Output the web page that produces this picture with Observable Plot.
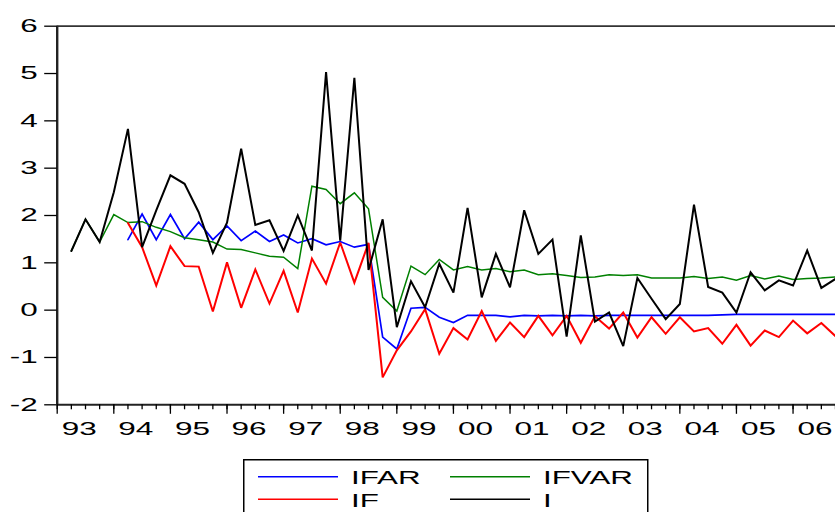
<!DOCTYPE html>
<html>
<head>
<meta charset="utf-8">
<script src="https://cdn.jsdelivr.net/npm/d3@7"></script>
<script src="https://cdn.jsdelivr.net/npm/@observablehq/plot@0.6"></script>
<style>
  html, body { margin: 0; padding: 0; background: #fff; }
  #wrap { position: relative; width: 835px; height: 512px; overflow: hidden; font-family: "Liberation Sans", Arial, sans-serif; }
  #chart svg { display: block; }
  #legend { position: absolute; left: 243px; top: 459px; }
</style>
</head>
<body>
<div id="wrap">
  <div id="chart"></div>
  <svg id="legend" width="406" height="60"></svg>
</div>
<script>
// ---- data (quarterly, first observation 1993Q2) ----
const startYear = 1993, startQuarter = 2;
const I = [1.25, 1.92, 1.44, 2.49, 3.83, 1.33, 2.11, 2.85, 2.67, 2.07, 1.21, 1.85, 3.41, 1.80,
  1.90, 1.25, 2.00, 1.26, 5.03, 1.47, 4.91, 0.85, 1.92, -0.36, 0.61, 0.06, 0.98, 0.37,
  2.16, 0.27, 1.19, 0.48, 2.11, 1.19, 1.49, -0.56, 1.58, -0.24, -0.05, -0.76, 0.68, 0.24,
  -0.19, 0.13, 2.23, 0.49, 0.37, -0.05, 0.80, 0.42, 0.63, 0.52, 1.26, 0.47, 0.66];
const IFVAR = [1.25, 1.92, 1.44, 2.02, 1.85, 1.87, 1.75, 1.66, 1.53, 1.49, 1.44, 1.29, 1.28, 1.21,
  1.14, 1.12, 0.88, 2.62, 2.55, 2.25, 2.48, 2.14, 0.27, -0.02, 0.93, 0.75, 1.07, 0.85,
  0.92, 0.85, 0.88, 0.81, 0.85, 0.75, 0.77, 0.73, 0.69, 0.70, 0.75, 0.73, 0.75, 0.68,
  0.68, 0.68, 0.71, 0.67, 0.70, 0.63, 0.73, 0.66, 0.72, 0.65, 0.67, 0.68, 0.70];
const IFAR = [null, null, null, null, 1.49, 2.03, 1.49, 2.02, 1.51, 1.86, 1.49, 1.78, 1.47, 1.67,
  1.45, 1.59, 1.42, 1.51, 1.38, 1.45, 1.33, 1.39, -0.57, -0.82, 0.04, 0.06, -0.15, -0.26,
  -0.11, -0.11, -0.11, -0.14, -0.11, -0.12, -0.11, -0.12, -0.11, -0.12, -0.11, -0.11, -0.11, -0.11,
  -0.11, -0.11, -0.11, -0.11, -0.10, -0.09, -0.09, -0.09, -0.09, -0.09, -0.09, -0.09, -0.09];
const IF = [null, null, null, null, 1.84, 1.33, 0.52, 1.35, 0.93, 0.92, -0.03, 1.01, 0.05, 0.86,
  0.14, 0.83, -0.05, 1.09, 0.56, 1.43, 0.58, 1.42, -1.42, -0.85, -0.45, 0.02, -0.92, -0.38,
  -0.62, -0.02, -0.65, -0.26, -0.57, -0.12, -0.53, -0.12, -0.69, -0.13, -0.39, -0.05, -0.58, -0.15,
  -0.50, -0.15, -0.45, -0.38, -0.71, -0.31, -0.75, -0.43, -0.57, -0.22, -0.49, -0.27, -0.55];
const yearTicks = [1993, 1994, 1995, 1996, 1997, 1998, 1999, 2000, 2001, 2002, 2003, 2004, 2005, 2006];
const yearLabels = ["93", "94", "95", "96", "97", "98", "99", "00", "01", "02", "03", "04", "05", "06"];
const yTicks = [-2, -1, 0, 1, 2, 3, 4, 5, 6];
const seriesNames = ["IFAR", "IFVAR", "IF", "I"];
const seriesColors = ["#0000ff", "#008000", "#ff0000", "#000000"];

// ---- build table ----
const time = I.map((_, k) => startYear + (startQuarter - 1 + k) / 4);
const seriesValues = [IFAR, IFVAR, IF, I];
const rows = [];
seriesNames.forEach((name, s) => {
  seriesValues[s].forEach((v, k) => rows.push({series: name, t: time[k], v}));
});
const quarterTicks = d3.range(startYear * 4, 2006 * 4 + 4).map(q => q / 4);
const labelPos = yearTicks.map(y => y + 0.39);
const labelMap = new Map(labelPos.map((p, k) => [p, yearLabels[k]]));

const widths = {IFAR: 1.7, IFVAR: 1.5, IF: 2, I: 2};
const font = "Liberation Sans, Arial, sans-serif";

const plot = Plot.plot({
  width: 835,
  height: 455,
  marginLeft: 56.7,
  marginRight: 0,
  marginTop: 25.7,
  marginBottom: 455 - 404.3,
  style: {fontFamily: font, color: "#000", background: "#fff", overflow: "visible"},
  x: {domain: [1993, 2006.75], axis: null},
  y: {domain: [-2, 6], axis: null},
  marks: [
    ...seriesNames.map((name, s) => Plot.line(rows.filter(d => d.series === name), {
      x: "t", y: "v", stroke: seriesColors[s], strokeWidth: widths[name], strokeLinejoin: "miter", strokeMiterlimit: 3
    })),
    Plot.ruleY([6], {stroke: "#333", strokeWidth: 1.8}),
    Plot.ruleY([-2], {stroke: "#222", strokeWidth: 2}),
    Plot.ruleX([1993], {stroke: "#222", strokeWidth: 2.4}),
    Plot.axisY({ticks: yTicks, anchor: "left", tickSize: 12.5, tickPadding: 7, strokeWidth: 1.3, label: null,
      tickFormat: d => String(d), fontSize: 18.5, fill: "#000"}),
    Plot.axisX({ticks: quarterTicks, anchor: "bottom", tickSize: 5, strokeWidth: 1.3, label: null, tickFormat: () => ""}),
    Plot.axisX({ticks: yearTicks, anchor: "bottom", tickSize: 9.5, strokeWidth: 1.3, label: null, tickFormat: () => ""}),
    Plot.axisX({ticks: labelPos, anchor: "bottom", tickSize: 0, tickPadding: 18, fontSize: 17.5, fill: "#000", label: null,
      tickFormat: d => labelMap.get(d)})
  ]
});
document.getElementById("chart").appendChild(plot);

// horizontally stretched lettering, as in the reference
function stretch(sel, k) {
  plot.querySelectorAll(sel).forEach(t => {
    const tr = t.getAttribute("transform") || "";
    t.setAttribute("transform", tr + ` scale(${k},1)`);
  });
}
stretch('g[aria-label="y-axis tick label"] text', 1.7);
stretch('g[aria-label="x-axis tick label"] text', 1.8);

// ---- legend ----
const leg = d3.select("#legend");
leg.append("rect").attr("x", 0.75).attr("y", 0.75).attr("width", 404).attr("height", 70)
  .attr("fill", "#fff").attr("stroke", "#000").attr("stroke-width", 1.5);
const legPos = [[15, 17.7], [207, 17.7], [15, 40.3], [207, 40.3]];
seriesNames.forEach((name, s) => {
  const [lx, ly] = legPos[s];
  leg.append("line").attr("x1", lx).attr("x2", lx + 80).attr("y1", ly).attr("y2", ly)
    .attr("stroke", seriesColors[s]).attr("stroke-width", 1.5);
  leg.append("text").attr("transform", `translate(${lx + 93},${ly + 7.6}) scale(1.65,1)`)
    .attr("font-family", font).attr("font-size", 19).attr("fill", "#000").text(name);
});
</script>
</body>
</html>
